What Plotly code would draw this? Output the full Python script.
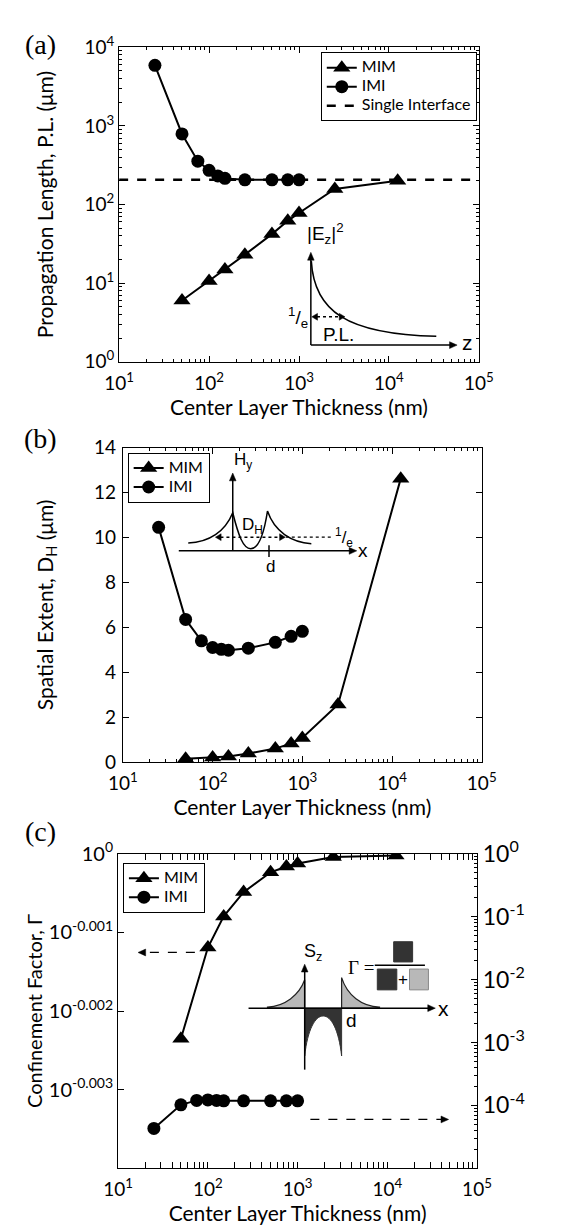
import plotly.graph_objects as go

W, H = 563, 1232
FONT = "Lato"
IFONT = "Liberation Sans"

# ---------------- data ----------------
thickness_imi = [25, 50, 75, 100, 125, 150, 250, 500, 750, 1000]
thickness_mim = [50, 100, 150, 250, 500, 750, 1000, 2500, 12500]

prop_len_mim = [6.0, 10.6, 14.9, 23, 42, 62, 78, 158, 200]
prop_len_imi = [5900, 790, 356, 272, 231, 215, 206, 206, 206, 206]
single_interface_pl = 206
single_interface_x = [10, 100000]

spatial_mim = [0.15, 0.2, 0.25, 0.38, 0.6, 0.83, 1.07, 2.56, 12.62]
spatial_imi = [10.45, 6.35, 5.4, 5.1, 5.02, 4.98, 5.07, 5.33, 5.6, 5.82]

gamma_mim = [0.99460, 0.99726, 0.99817, 0.99888, 0.99946, 0.99963, 0.99972, 0.99991, 0.99995]
gamma_imi = [4.3e-5, 1.02e-4, 1.2e-4, 1.22e-4, 1.2e-4, 1.18e-4, 1.18e-4, 1.18e-4, 1.18e-4, 1.18e-4]

x_tick_vals = [10, 100, 1000, 10000, 100000]
x_tick_text = ["10<sup>1</sup>", "10<sup>2</sup>", "10<sup>3</sup>", "10<sup>4</sup>", "10<sup>5</sup>"]
pl_tick_vals = [1, 10, 100, 1000, 10000]
pl_tick_text = ["10<sup>0</sup>", "10<sup>1</sup>", "10<sup>2</sup>", "10<sup>3</sup>", "10<sup>4</sup>"]
dh_tick_vals = [0, 2, 4, 6, 8, 10, 12, 14]
gl_tick_vals = [1, 10 ** -0.001, 10 ** -0.002, 10 ** -0.003]
gl_tick_text = ["10<sup>0</sup>", "10<sup>-0.001</sup>", "10<sup>-0.002</sup>", "10<sup>-0.003</sup>"]
gr_tick_vals = [1, 1e-1, 1e-2, 1e-3, 1e-4]
gr_tick_text = ["10<sup>0</sup>", "10<sup>-1</sup>", "10<sup>-2</sup>", "10<sup>-3</sup>", "10<sup>-4</sup>"]

X_LABEL = "Center Layer Thickness (nm)"

# ---------------- helpers ----------------
def xdom(x0, x1):
    return [x0 / W, x1 / W]


def ydom(y0, y1):
    return [1 - y1 / H, 1 - y0 / H]


def minor_log(lo, hi):
    return [m * 10 ** k for k in range(lo, hi) for m in range(2, 10)]


def P(x, y):
    return f"{x / W:.5f},{1 - y / H:.5f}"


shapes = []
annotations = []


def path(cmds, close=False, fill=None, lc="black", lw=1.5, dash=None):
    s = ""
    for c, pts in cmds:
        if c == "L":
            for pt in pts:
                s += "L " + P(*pt) + " "
        else:
            s += c + " " + " ".join(P(x, y) for x, y in pts) + " "
    if close:
        s += "Z"
    line = dict(color=lc, width=lw)
    if dash:
        line["dash"] = dash
    shapes.append(dict(type="path", path=s, xref="paper", yref="paper", line=line, layer="above",
                       fillcolor=fill if fill else "rgba(0,0,0,0)"))


def seg(x0, y0, x1, y1, lw=1.5, dash=None, color="black"):
    line = dict(color=color, width=lw)
    if dash:
        line["dash"] = dash
    shapes.append(dict(type="line", xref="paper", yref="paper",
                       x0=x0 / W, y0=1 - y0 / H, x1=x1 / W, y1=1 - y1 / H,
                       line=line, layer="above"))


def head(xt, yt, dx, dy, L=8, hw=3.5):
    bx, by = xt - dx * L, yt - dy * L
    nx, ny = -dy, dx
    p1 = (bx + nx * hw, by + ny * hw)
    p2 = (bx - nx * hw, by - ny * hw)
    path([("M", [(xt, yt)]), ("L", [p1, p2])], close=True, fill="black", lc="black", lw=0.5)


def rect(x0, y0, x1, y1, fill, lc):
    shapes.append(dict(type="rect", xref="paper", yref="paper",
                       x0=x0 / W, y0=1 - y1 / H, x1=x1 / W, y1=1 - y0 / H,
                       fillcolor=fill, line=dict(color=lc, width=1), layer="above"))


def text(x, y, t, size=17, family=IFONT, xanchor="center", yanchor="middle"):
    annotations.append(dict(x=x / W, y=1 - y / H, xref="paper", yref="paper", text=t,
                            showarrow=False, xanchor=xanchor, yanchor=yanchor,
                            font=dict(family=family, size=size, color="black")))


def lg(name):
    return f'<span style="font-size:16px">{name}</span>'


# ---------------- figure ----------------
fig = go.Figure()

line_style = dict(color="black", width=2)
tri = dict(symbol="triangle-up", size=15, color="black")
circ = dict(symbol="circle", size=13, color="black")

# (a)
fig.add_trace(go.Scatter(x=thickness_mim, y=prop_len_mim, mode="lines+markers", name=lg("MIM"),
                         line=line_style, marker=tri, xaxis="x", yaxis="y", legend="legend"))
fig.add_trace(go.Scatter(x=thickness_imi, y=prop_len_imi, mode="lines+markers", name=lg("IMI"),
                         line=line_style, marker=circ, xaxis="x", yaxis="y", legend="legend"))
fig.add_trace(go.Scatter(x=single_interface_x, y=[single_interface_pl] * 2, mode="lines",
                         name=lg("Single Interface"), line=dict(color="black", width=2.5, dash="dash"),
                         xaxis="x", yaxis="y", legend="legend"))
# (b)
fig.add_trace(go.Scatter(x=thickness_mim, y=spatial_mim, mode="lines+markers", name=lg("MIM"),
                         line=line_style, marker=tri, xaxis="x2", yaxis="y2", legend="legend2"))
fig.add_trace(go.Scatter(x=thickness_imi, y=spatial_imi, mode="lines+markers", name=lg("IMI"),
                         line=line_style, marker=circ, xaxis="x2", yaxis="y2", legend="legend2"))
# (c)
fig.add_trace(go.Scatter(x=thickness_mim, y=gamma_mim, mode="lines+markers", name=lg("MIM"),
                         line=line_style, marker=tri, xaxis="x3", yaxis="y3", legend="legend3"))
fig.add_trace(go.Scatter(x=thickness_imi, y=gamma_imi, mode="lines+markers", name=lg("IMI"),
                         line=line_style, marker=circ, xaxis="x3", yaxis="y4", legend="legend3"))

tickfont = dict(family=FONT, size=19, color="black")
titlefont = dict(family=FONT, size=21, color="black")

base = dict(showline=True, linecolor="black", linewidth=1.3, ticks="inside", ticklen=6,
            tickwidth=1, tickcolor="black", showgrid=False, zeroline=False, tickfont=tickfont)
minor_x = dict(ticks="inside", ticklen=3, tickwidth=0.8, tickcolor="black",
               tickmode="array", tickvals=minor_log(1, 5), showgrid=False)


def xax(dom, anchor):
    return dict(base, domain=dom, anchor=anchor, type="log", range=[1, 5], mirror="allticks",
                tickmode="array", tickvals=x_tick_vals, ticktext=x_tick_text, minor=minor_x,
                ticklabelstandoff=4,
                title=dict(text=X_LABEL, font=titlefont, standoff=0))


DA = dict(x=(110, 490), y=(30, 352))
DB = dict(x=(114, 493), y=(440, 762))
DC = dict(x=(109, 488), y=(856, 1178))

legend_base = dict(bordercolor="black", borderwidth=1, bgcolor="white", xanchor="left",
                   yanchor="top", font=dict(family=FONT, size=12, color="black"),
                   tracegroupgap=0, itemwidth=30)

fig.update_layout(
    width=W, height=H, margin=dict(l=0, r=0, t=0, b=0),
    paper_bgcolor="white", plot_bgcolor="white", showlegend=True,
    xaxis=xax(xdom(*DA["x"]), "y"),
    yaxis=dict(base, domain=ydom(*DA["y"]), anchor="x", type="log", range=[0, 4], mirror="allticks",
               tickmode="array", tickvals=pl_tick_vals, ticktext=pl_tick_text,
               minor=dict(minor_x, tickvals=minor_log(0, 4)),
               title=dict(text="Propagation Length, P.L. (\u03bcm)", font=titlefont, standoff=25)),
    xaxis2=xax(xdom(*DB["x"]), "y2"),
    yaxis2=dict(base, domain=ydom(*DB["y"]), anchor="x2", range=[0, 14], mirror="allticks",
                tickmode="array", tickvals=dh_tick_vals, ticklabelstandoff=2,
                title=dict(text="Spatial Extent, D<sub>H</sub> (\u03bcm)", font=titlefont, standoff=34)),
    xaxis3=xax(xdom(*DC["x"]), "y3"),
    yaxis3=dict(base, domain=ydom(*DC["y"]), anchor="x3", type="log", range=[-0.004, 0], mirror=False,
                tickmode="array", tickvals=gl_tick_vals, ticktext=gl_tick_text,
                tickfont=dict(tickfont, size=20),
                title=dict(text="Confinement Factor, \u0393", font=dict(titlefont, size=20), standoff=0)),
    yaxis4=dict(base, domain=ydom(*DC["y"]), anchor="x3", overlaying="y3", side="right",
                type="log", range=[-5, 0], mirror=False,
                tickmode="array", tickvals=gr_tick_vals, ticktext=gr_tick_text,
                tickfont=dict(tickfont, size=23),
                minor=dict(minor_x, tickvals=minor_log(-5, 0))),
    legend=dict(legend_base, x=323 / W, y=1 - 35 / H),
    legend2=dict(legend_base, x=119 / W, y=1 - 445 / H),
    legend3=dict(legend_base, x=114 / W, y=1 - 865 / H),
)

# ---------------- panel labels ----------------
for lbl, yy in [("(a)", 27), ("(b)", 431), ("(c)", 833)]:
    text(27, yy, lbl, size=28, family="Liberation Serif")

# ---------------- inset (a) ----------------
seg(312.5, 335, 312.5, 246)
head(312.5, 240, 0, -1)
seg(312.5, 335, 460, 335)
head(467, 335, 1, 0)
path([("M", [(313, 249)]), ("C", [(316, 300), (350, 324), (445, 326)])], lw=1.5)
seg(319, 306, 343, 306, lw=1.5, dash="dot")
head(313.5, 306, -1, 0, L=6, hw=3.5)
head(348.5, 306, 1, 0, L=6, hw=3.5)
text(328, 221, "|E<sub>z</sub>|<sup>2</sup>", size=19)
text(299, 307, "<sup>1</sup>/<sub>e</sub>", size=19)
text(342, 324, "P.L.", size=19)
text(478, 332, "z", size=21)

# ---------------- inset (b) ----------------
seg(173, 545.7, 354, 545.7)
head(361, 545.7, 1, 0)
seg(230, 545.7, 230, 472)
head(230, 466, 0, -1)
seg(268.3, 540, 268.3, 552)
path([("M", [(183, 537.7)]), ("C", [(205, 537), (222, 526), (230, 506.7)]),
      ("C", [(236, 530), (241, 543.5), (249, 543.5)]),
      ("C", [(258, 543.5), (263, 528), (266.7, 505)]),
      ("C", [(274, 526), (292, 537), (313, 538.3)])], lw=1.5)
seg(217, 531.7, 280, 531.7, lw=1.5, dash="dot")
head(211.7, 531.7, -1, 0, L=6, hw=3.5)
head(285.5, 531.7, 1, 0, L=6, hw=3.5)
seg(286, 531.7, 335, 531.7, lw=1.2, dash="dot")
text(241, 454, "H<sub>y</sub>", size=17)
text(251, 520, "D<sub>H</sub>", size=17)
text(347, 532, "<sup>1</sup>/<sub>e</sub>", size=17)
text(270, 562, "d", size=17)
text(368, 545, "x", size=19)

# ---------------- inset (c) ----------------
LIGHT, DARK = "#b8b8b8", "#333333"
path([("M", [(266.7, 1013)]), ("C", [(285, 1012), (300, 1001), (306, 985)]),
      ("L", [(306, 1014), (266.7, 1014)])], close=True, fill=LIGHT, lc="#222", lw=1.2)
path([("M", [(345, 982.7)]), ("C", [(351, 1001), (366, 1012), (385, 1013)]),
      ("L", [(385, 1014), (345, 1014)])], close=True, fill=LIGHT, lc="#222", lw=1.2)
path([("M", [(306, 1014)]), ("L", [(306, 1063)]),
      ("C", [(309, 1036), (317, 1022), (325.5, 1022)]),
      ("C", [(334, 1022), (342, 1036), (345, 1063)]),
      ("L", [(345, 1014)])], close=True, fill=DARK, lc=DARK, lw=1)
seg(246.7, 1014, 437, 1014)
head(444, 1014, 1, 0)
seg(306, 1077, 306, 976)
head(306, 969, 0, -1)
text(315, 957, "S<sub>z</sub>", size=18)
text(355, 1027, "d", size=19)
text(453, 1014, "x", size=21)
text(366, 972, "\u0393 =", size=19, family="Liberation Serif")
seg(380, 970, 433, 970, lw=1.5)
rect(400, 946, 420, 966.7, DARK, DARK)
rect(382.7, 974, 403.3, 995.3, DARK, DARK)
rect(416.7, 974, 436.7, 995.3, LIGHT, "#888")
text(410, 985, "+", size=17)

# dashed pointer arrows in (c)
seg(190, 957, 137, 957, lw=1.2, dash="dash")
head(130, 957, -1, 0, L=8, hw=3.5)
seg(312, 1128, 451, 1128, lw=1.2, dash="dash")
head(458, 1128, 1, 0, L=8, hw=3.5)

fig.update_layout(shapes=shapes, annotations=annotations)

fig.write_html("out.html", config={"displayModeBar": False},
               post_script="document.body.style.margin='0';document.body.style.overflow='hidden';")
